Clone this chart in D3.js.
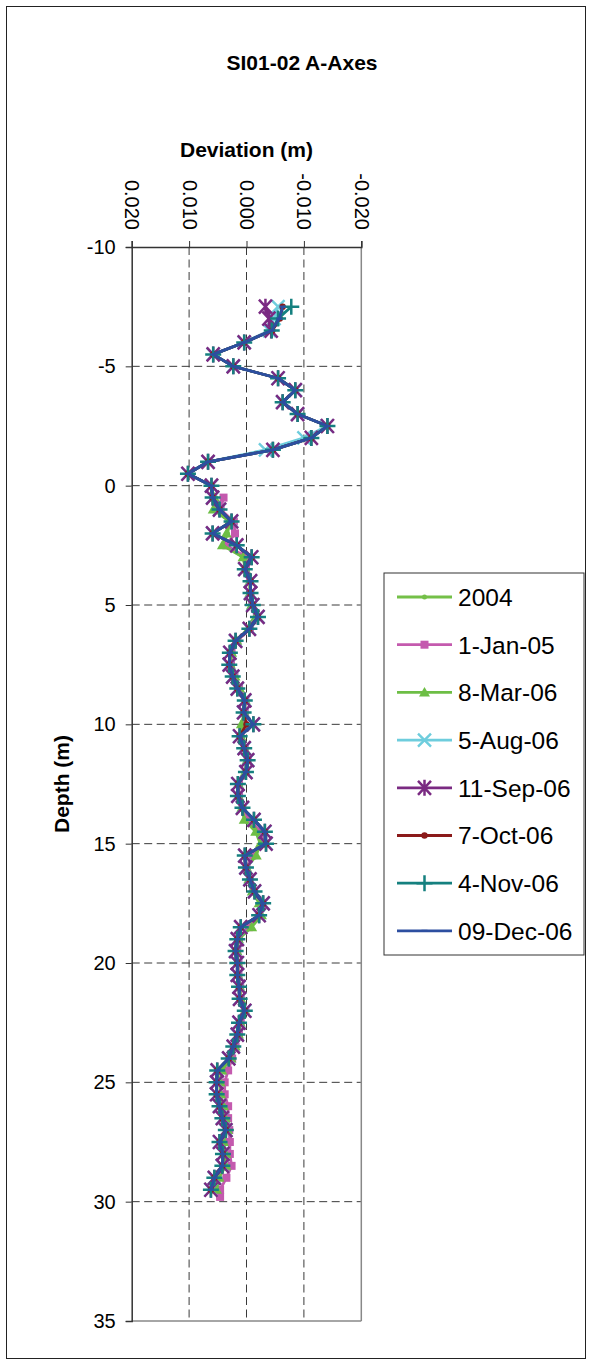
<!DOCTYPE html>
<html><head><meta charset="utf-8">
<script src="https://cdn.jsdelivr.net/npm/d3@7/dist/d3.min.js"></script>
<style>body{margin:0;background:#fff}svg{display:block;font-family:"Liberation Sans",Arial,sans-serif}</style>
</head><body>
<svg id="c" width="590" height="1365"></svg>
<script>
const title = "SI01-02 A-Axes";
const xTitle = "Deviation (m)";
const yTitle = "Depth (m)";
const xTicks = [0.02, 0.01, 0, -0.01, -0.02];
const xTickLabels = ["0.020", "0.010", "0.000", "-0.010", "-0.020"];
const yTicks = [-10, -5, 0, 5, 10, 15, 20, 25, 30, 35];
const yTickLabels = ["-10", "-5", "0", "5", "10", "15", "20", "25", "30", "35"];

const depthNew = [-7.5,-7,-6.5,-6,-5.5,-5,-4.5,-4,-3.5,-3,-2.5,-2,-1.5,-1,-0.5,0,0.5,1,1.5,2,2.5,3,3.5,4,4.5,5,5.5,6,6.5,7,7.5,8,8.5,9,9.5,10,10.5,11,11.5,12,12.5,13,13.5,14,14.5,15,15.5,16,16.5,17,17.5,18,18.5,19,19.5,20,20.5,21,21.5,22,22.5,23,23.5,24,24.5,25,25.5,26,26.5,27,27.5,28,28.5,29,29.5];
const depthOld = [0.5,1,1.5,2,2.5,3,3.5,4,4.5,5,5.5,6,6.5,7,7.5,8,8.5,9,9.5,10,10.5,11,11.5,12,12.5,13,13.5,14,14.5,15,15.5,16,16.5,17,17.5,18,18.5,19,19.5,20,20.5,21,21.5,22,22.5,23,23.5,24,24.5,25,25.5,26,26.5,27,27.5,28,28.5,29,29.5,29.8];

const v2004 = [0.0054,0.0056,0.0029,0.0033,0.0040,0.0005,0.0002,-0.0006,-0.0006,-0.0010,-0.0017,-0.0004,0.0017,0.0027,0.0028,0.0021,0.0013,0.0002,0.0004,0.0006,0.0010,0.0004,-0.0001,0.0002,0.0014,0.0014,0.0008,0.0002,-0.0018,-0.0026,-0.0014,0.0000,-0.0005,-0.0011,-0.0024,-0.0025,-0.0006,0.0014,0.0017,0.0015,0.0015,0.0012,0.0011,0.0003,0.0011,0.0014,0.0021,0.0028,0.0044,0.0046,0.0046,0.0041,0.0038,0.0034,0.0041,0.0037,0.0037,0.0049,0.0053];
const vJan05 = [0.0040,0.0045,0.0022,0.0020,0.0035,0.0000,0.0001,-0.0006,-0.0007,-0.0010,-0.0018,-0.0006,0.0016,0.0026,0.0027,0.0021,0.0013,0.0002,0.0003,0.0004,0.0010,0.0003,-0.0002,0.0001,0.0013,0.0013,0.0007,-0.0005,-0.0025,-0.0030,-0.0010,0.0000,-0.0006,-0.0012,-0.0026,-0.0022,-0.0004,0.0013,0.0016,0.0014,0.0014,0.0011,0.0010,0.0002,0.0010,0.0013,0.0019,0.0025,0.0032,0.0038,0.0038,0.0032,0.0032,0.0030,0.0029,0.0029,0.0026,0.0035,0.0046,0.0046];
const vMar06 = [0.0056,0.0058,0.0030,0.0035,0.0042,0.0006,0.0002,-0.0006,-0.0006,-0.0009,-0.0016,-0.0003,0.0017,0.0026,0.0028,0.0020,0.0012,0.0002,0.0004,0.0009,0.0010,0.0004,-0.0001,0.0002,0.0014,0.0014,0.0008,0.0004,-0.0016,-0.0024,-0.0017,0.0000,-0.0004,-0.0010,-0.0022,-0.0026,-0.0009,0.0014,0.0017,0.0015,0.0015,0.0012,0.0010,0.0003,0.0011,0.0014,0.0020,0.0027,0.0043,0.0046,0.0045,0.0040,0.0037,0.0033,0.0040,0.0036,0.0036,0.0048,0.0052];
const vAug06 = [-0.0055,-0.0048,-0.0040,0.0004,0.0058,0.0023,-0.0055,-0.0085,-0.0063,-0.0089,-0.0140,-0.0100,-0.0033,0.0067,0.0102,0.0061,0.0059,0.0047,0.0026,0.0059,0.0017,-0.0009,0.0003,-0.0007,-0.0007,-0.0011,-0.0020,-0.0005,0.0019,0.0029,0.0030,0.0024,0.0016,0.0003,0.0005,-0.0012,0.0012,0.0004,-0.0002,0.0001,0.0015,0.0015,0.0007,-0.0013,-0.0032,-0.0034,0.0003,0.0001,-0.0006,-0.0014,-0.0029,-0.0022,0.0010,0.0016,0.0019,0.0016,0.0016,0.0013,0.0012,0.0003,0.0013,0.0016,0.0023,0.0031,0.0051,0.0052,0.0052,0.0047,0.0042,0.0036,0.0047,0.0041,0.0042,0.0056,0.0062];
const vSep06 = [-0.0033,-0.0039,-0.0043,0.0004,0.0058,0.0023,-0.0055,-0.0085,-0.0063,-0.0089,-0.0141,-0.0113,-0.0046,0.0067,0.0102,0.0061,0.0059,0.0047,0.0026,0.0059,0.0017,-0.0009,0.0003,-0.0007,-0.0007,-0.0011,-0.0020,-0.0005,0.0019,0.0029,0.0030,0.0024,0.0016,0.0003,0.0005,-0.0012,0.0012,0.0004,-0.0002,0.0001,0.0015,0.0015,0.0007,-0.0013,-0.0032,-0.0034,0.0003,0.0001,-0.0006,-0.0014,-0.0029,-0.0022,0.0010,0.0016,0.0019,0.0016,0.0016,0.0013,0.0012,0.0003,0.0013,0.0016,0.0023,0.0031,0.0051,0.0052,0.0052,0.0047,0.0042,0.0036,0.0047,0.0041,0.0042,0.0056,0.0062];
const vOct06 = [-0.0063,-0.0058,-0.0045,0.0004,0.0058,0.0023,-0.0055,-0.0085,-0.0063,-0.0089,-0.0141,-0.0113,-0.0046,0.0067,0.0102,0.0061,0.0059,0.0047,0.0026,0.0059,0.0017,-0.0009,0.0003,-0.0007,-0.0007,-0.0011,-0.0020,-0.0005,0.0019,0.0029,0.0030,0.0024,0.0016,0.0003,0.0005,0.0000,0.0012,0.0004,-0.0002,0.0001,0.0015,0.0015,0.0007,-0.0013,-0.0032,-0.0034,0.0003,0.0001,-0.0006,-0.0014,-0.0029,-0.0022,0.0010,0.0016,0.0019,0.0016,0.0016,0.0013,0.0012,0.0003,0.0013,0.0016,0.0023,0.0031,0.0051,0.0052,0.0052,0.0047,0.0042,0.0036,0.0047,0.0041,0.0042,0.0056,0.0062];
const vNov06 = [-0.0078,-0.0055,-0.0044,0.0004,0.0058,0.0023,-0.0055,-0.0085,-0.0063,-0.0089,-0.0141,-0.0113,-0.0046,0.0067,0.0102,0.0061,0.0059,0.0047,0.0026,0.0059,0.0017,-0.0009,0.0003,-0.0007,-0.0007,-0.0011,-0.0020,-0.0005,0.0019,0.0029,0.0030,0.0024,0.0016,0.0003,0.0005,-0.0012,0.0012,0.0004,-0.0002,0.0001,0.0015,0.0015,0.0007,-0.0013,-0.0032,-0.0034,0.0003,0.0001,-0.0006,-0.0014,-0.0029,-0.0022,0.0010,0.0016,0.0019,0.0016,0.0016,0.0013,0.0012,0.0003,0.0013,0.0016,0.0023,0.0031,0.0051,0.0052,0.0052,0.0047,0.0042,0.0036,0.0047,0.0041,0.0042,0.0056,0.0062];
const vDec06 = [-0.0063,-0.0057,-0.0044,0.0004,0.0058,0.0023,-0.0055,-0.0085,-0.0063,-0.0089,-0.0141,-0.0113,-0.0046,0.0067,0.0102,0.0061,0.0059,0.0047,0.0026,0.0059,0.0017,-0.0009,0.0003,-0.0007,-0.0007,-0.0011,-0.0020,-0.0005,0.0019,0.0029,0.0030,0.0024,0.0016,0.0003,0.0005,-0.0012,0.0012,0.0004,-0.0002,0.0001,0.0015,0.0015,0.0007,-0.0013,-0.0032,-0.0034,0.0003,0.0001,-0.0006,-0.0014,-0.0029,-0.0022,0.0010,0.0016,0.0019,0.0016,0.0016,0.0013,0.0012,0.0003,0.0013,0.0016,0.0023,0.0031,0.0051,0.0052,0.0052,0.0047,0.0042,0.0036,0.0047,0.0041,0.0042,0.0056,0.0062];

const seriesNames = ["2004","1-Jan-05","8-Mar-06","5-Aug-06","11-Sep-06","7-Oct-06","4-Nov-06","09-Dec-06"];
const seriesValues = [v2004, vJan05, vMar06, vAug06, vSep06, vOct06, vNov06, vDec06];
const seriesDepths = [depthOld, depthOld, depthOld, depthNew, depthNew, depthNew, depthNew, depthNew];
const seriesColors = ["#74C048","#C45AAE","#6DBE45","#6ECDDD","#7A2A82","#8B1A1A","#15807F","#2D4EA0"];
const seriesMarkers = ["dot","square","triangle","x","star","circle","plus","dash"];

const svg = d3.select("#c");
svg.append("rect").attr("x",6.5).attr("y",6.5).attr("width",579).attr("height",1352)
  .attr("fill","#fff").attr("stroke","#222").attr("stroke-width",1);

const x = d3.scaleLinear().domain([0.02,-0.02]).range([131.7,361.3]);
const y = d3.scaleLinear().domain([-10,35]).range([247,1321]);

// gridlines
const grid = svg.append("g").attr("stroke","#3a3a3a").attr("stroke-width",1).attr("stroke-dasharray","8,4.5");
grid.selectAll("line.h").data(yTicks.slice(1,-1)).join("line")
  .attr("x1",x(0.02)).attr("x2",x(-0.02)).attr("y1",d=>y(d)).attr("y2",d=>y(d));
grid.selectAll("line.v").data(xTicks.slice(1,-1)).join("line")
  .attr("y1",y(-10)).attr("y2",y(35)).attr("x1",d=>x(d)).attr("x2",d=>x(d));

// plot frame (right & bottom gray)
svg.append("line").attr("x1",x(-0.02)).attr("x2",x(-0.02)).attr("y1",y(-10)).attr("y2",y(35)).attr("stroke","#888").attr("stroke-width",1.5);
svg.append("line").attr("x1",x(0.02)).attr("x2",x(-0.02)).attr("y1",y(35)).attr("y2",y(35)).attr("stroke","#888").attr("stroke-width",1.5);

// axes
const xAxis = d3.axisTop(x).tickValues(xTicks).tickSize(6).tickFormat((d,i)=>xTickLabels[i]);
const gx = svg.append("g").attr("transform",`translate(0,${y(-10)})`).call(xAxis);
gx.select(".domain").attr("stroke","#333").attr("stroke-width",1.5);
gx.selectAll(".tick line").attr("stroke","#333");
gx.selectAll(".tick text").attr("font-size",20).attr("fill","#000")
  .attr("text-anchor","end").attr("transform","translate(0,-17) rotate(90)")
  .attr("x",0).attr("y",0).attr("dy","0.35em");

const yAxis = d3.axisLeft(y).tickValues(yTicks).tickSize(6).tickPadding(10).tickFormat((d,i)=>yTickLabels[i]);
const gy = svg.append("g").attr("transform",`translate(${x(0.02)},0)`).call(yAxis);
gy.select(".domain").attr("stroke","#333").attr("stroke-width",1.5);
gy.selectAll(".tick line").attr("stroke","#333");
gy.selectAll(".tick text").attr("font-size",20).attr("fill","#000");

// titles
svg.append("text").attr("x",302).attr("y",70).attr("text-anchor","middle").attr("font-weight","bold").attr("font-size",21).text(title);
svg.append("text").attr("x",(x(0.02)+x(-0.02))/2).attr("y",157).attr("text-anchor","middle").attr("font-weight","bold").attr("font-size",21).text(xTitle);
svg.append("text").attr("transform",`translate(69,${(y(-10)+y(35))/2}) rotate(-90)`).attr("text-anchor","middle").attr("font-weight","bold").attr("font-size",21).text(yTitle);

function drawMarker(g, type, color, cx, cy) {
  if (type==="dot") g.append("circle").attr("cx",cx).attr("cy",cy).attr("r",2.5).attr("fill",color);
  else if (type==="circle") g.append("circle").attr("cx",cx).attr("cy",cy).attr("r",3.2).attr("fill",color);
  else if (type==="square") g.append("rect").attr("x",cx-4).attr("y",cy-4).attr("width",8).attr("height",8).attr("fill",color);
  else if (type==="triangle") g.append("path").attr("d",`M${cx},${cy-5.5}L${cx+5.5},${cy+4}L${cx-5.5},${cy+4}Z`).attr("fill",color);
  else if (type==="x") g.append("path").attr("d",`M${cx-6.5},${cy-6.5}L${cx+6.5},${cy+6.5}M${cx-6.5},${cy+6.5}L${cx+6.5},${cy-6.5}`).attr("stroke",color).attr("stroke-width",2.4);
  else if (type==="star") g.append("path").attr("d",`M${cx-6.5},${cy-7}L${cx+6.5},${cy+7}M${cx-6.5},${cy+7}L${cx+6.5},${cy-7}M${cx},${cy-8}L${cx},${cy+8}`).attr("stroke",color).attr("stroke-width",2.5);
  else if (type==="plus") g.append("path").attr("d",`M${cx-8},${cy}L${cx+8},${cy}M${cx},${cy-8}L${cx},${cy+8}`).attr("stroke",color).attr("stroke-width",2.5);
  else if (type==="dash") g.append("path").attr("d",`M${cx-3},${cy}L${cx+3},${cy}`).attr("stroke",color).attr("stroke-width",2.2);
}

const line = d3.line().x(d=>x(d.v)).y(d=>y(d.d));
seriesNames.forEach((name,i)=>{
  const pts = seriesValues[i].map((v,k)=>({v:v,d:seriesDepths[i][k]}));
  const g = svg.append("g");
  g.append("path").datum(pts).attr("d",line).attr("fill","none").attr("stroke",seriesColors[i]).attr("stroke-width",2.8).attr("stroke-linejoin","round");
  pts.forEach(p=>drawMarker(g, seriesMarkers[i], seriesColors[i], x(p.v), y(p.d)));
});

// legend
const lg = svg.append("g");
lg.append("rect").attr("x",384).attr("y",573).attr("width",200).attr("height",382).attr("fill","#fff").attr("stroke","#333").attr("stroke-width",1);
seriesNames.forEach((name,i)=>{
  const ry = 597 + i*47.7;
  lg.append("line").attr("x1",397).attr("x2",452).attr("y1",ry).attr("y2",ry).attr("stroke",seriesColors[i]).attr("stroke-width",2.8);
  drawMarker(lg, seriesMarkers[i], seriesColors[i], 424.5, ry);
  lg.append("text").attr("x",458).attr("y",ry).attr("dy","0.36em").attr("font-size",24.5).attr("fill","#000").text(name);
});
</script>
</body></html>
